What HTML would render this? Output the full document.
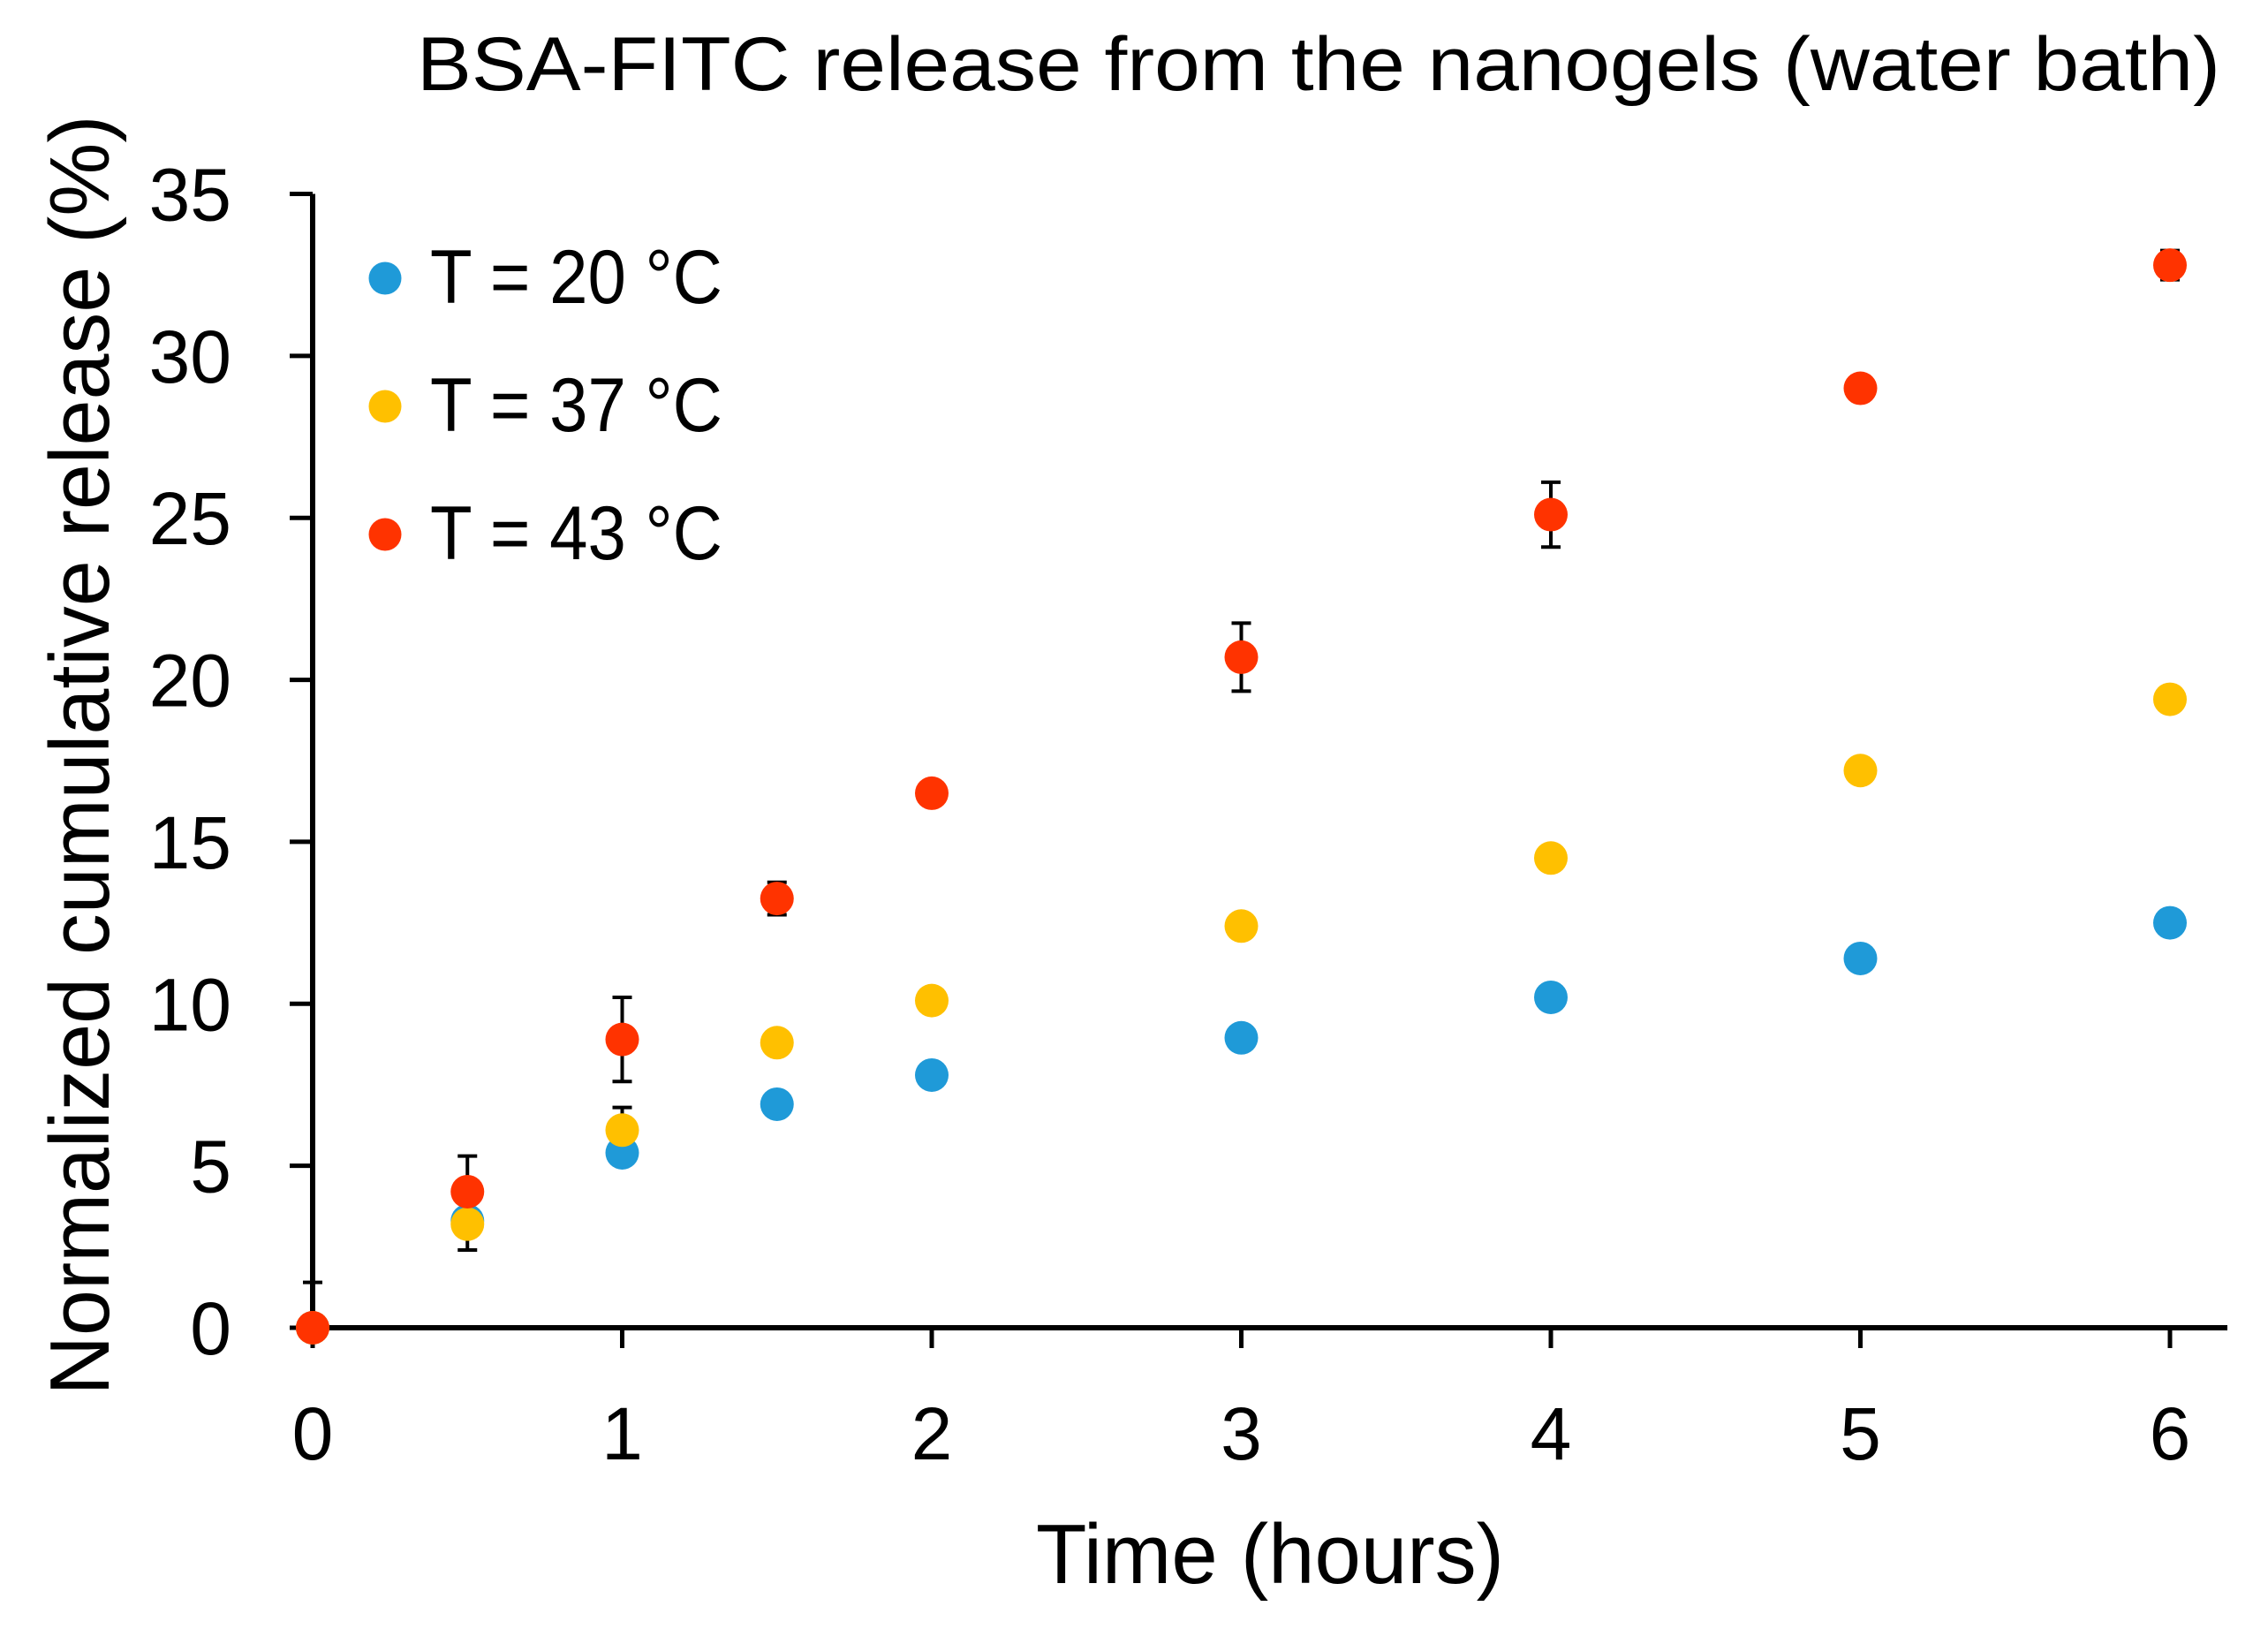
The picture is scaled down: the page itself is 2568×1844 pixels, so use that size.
<!DOCTYPE html>
<html><head><meta charset="utf-8"><style>
html,body{margin:0;padding:0;background:#fff;}
svg{display:block;font-family:"Liberation Sans",sans-serif;}
</style></head><body>
<svg id="chart" width="2568" height="1844" viewBox="0 0 2568 1844" xmlns="http://www.w3.org/2000/svg">
<text x="472" y="102" font-size="86" textLength="2042" lengthAdjust="spacingAndGlyphs">BSA-FITC release from the nanogels (water bath)</text>
<text x="1173" y="1792" font-size="96" textLength="530" lengthAdjust="spacingAndGlyphs">Time (hours)</text>
<text transform="translate(123,855) rotate(-90)" text-anchor="middle" font-size="96" textLength="1449" lengthAdjust="spacingAndGlyphs">Normalized cumulative release (%)</text>
<g id="axes"></g>
<g id="marks"></g>
<g id="legend"></g>
</svg>
<script>
const xTicks = [0,1,2,3,4,5,6];
const yTicks = [0,5,10,15,20,25,30,35];
const times = [0,0.5,1,1.5,2,3,4,5,6];
const s20 = [0,3.3,5.4,6.9,7.8,8.95,10.2,11.4,12.5];
const e20 = [0,0,0,0,0,0.3,0,0,0];
const s37 = [0,3.2,6.1,8.8,10.1,12.4,14.5,17.2,19.4];
const e37 = [0,0.8,0.7,0,0,0,0,0,0];
const s43 = [0,4.2,8.9,13.25,16.5,20.7,25.1,29.0,32.8];
const e43 = [1.4,1.1,1.3,0.5,0,1.05,1.0,0,0.45];
const seriesNames = ["T = 20 °C","T = 37 °C","T = 43 °C"];
const colors = ["#1f9ad8","#ffc000","#ff3300"];

const NS="http://www.w3.org/2000/svg";
const X0=354, XW=350.5, Y0=1503, YS=(1503-219.5)/35;
const sx=v=>X0+v*XW, sy=v=>Y0-v*YS;
function mk(tag,attrs,parent,txt){const e=document.createElementNS(NS,tag);for(const k in attrs)e.setAttribute(k,attrs[k]);if(txt!==undefined)e.textContent=txt;parent.appendChild(e);return e;}
const axes=document.getElementById('axes');
let l=mk('line',{x1:X0,y1:sy(35),x2:X0,y2:Y0+3,stroke:'#000','stroke-width':6},axes);


l=mk('line',{x1:X0-3,y1:Y0,x2:2522,y2:Y0,stroke:'#000','stroke-width':6},axes);


yTicks.forEach(v=>{
  let t=mk('line',{x1:328,y1:sy(v),x2:X0,y2:sy(v),stroke:'#000','stroke-width':5},axes);
  
  
  let tx=mk('text',{x:262,y:sy(v)+30,'font-size':84,'text-anchor':'end'},axes,String(v));
  
  
});
xTicks.forEach(v=>{
  let t=mk('line',{x1:sx(v),y1:Y0,x2:sx(v),y2:1526,stroke:'#000','stroke-width':5},axes);
  
  
  let tx=mk('text',{x:sx(v),y:1652,'font-size':84,'text-anchor':'middle'},axes,String(v));
  
  
});
const marks=document.getElementById('marks');
const all=[[s20,e20],[s37,e37],[s43,e43]];
all.forEach((pair,si)=>{
  const [vals,errs]=pair;
  vals.forEach((v,i)=>{
    if(errs[i]>0){
      const g=mk('g',{stroke:'#000','stroke-width':4},marks);
      
      
      const x=sx(times[i]),yt=sy(v+errs[i]);
      const low=v-errs[i];
      mk('line',{x1:x,y1:yt,x2:x,y2:sy(Math.max(low,0))},g);
      mk('line',{x1:x-11,y1:yt,x2:x+11,y2:yt},g);
      if(low>=0) mk('line',{x1:x-11,y1:sy(low),x2:x+11,y2:sy(low)},g);
    }
  });
});
all.forEach((pair,si)=>{
  pair[0].forEach((v,i)=>{
    const c=mk('circle',{cx:sx(times[i]),cy:sy(v),r:19,fill:colors[si]},marks);
    
    
  });
});
const legend=document.getElementById('legend');
const ly=[315,460,605];
seriesNames.forEach((n,i)=>{
  const g=mk('g',{},legend);
  
  
  mk('circle',{cx:436,cy:ly[i],r:18.5,fill:colors[i]},g);
  mk('text',{x:487,y:ly[i]+28,'font-size':86,textLength:331,lengthAdjust:'spacingAndGlyphs'},g,n);
});
</script>
</body></html>
